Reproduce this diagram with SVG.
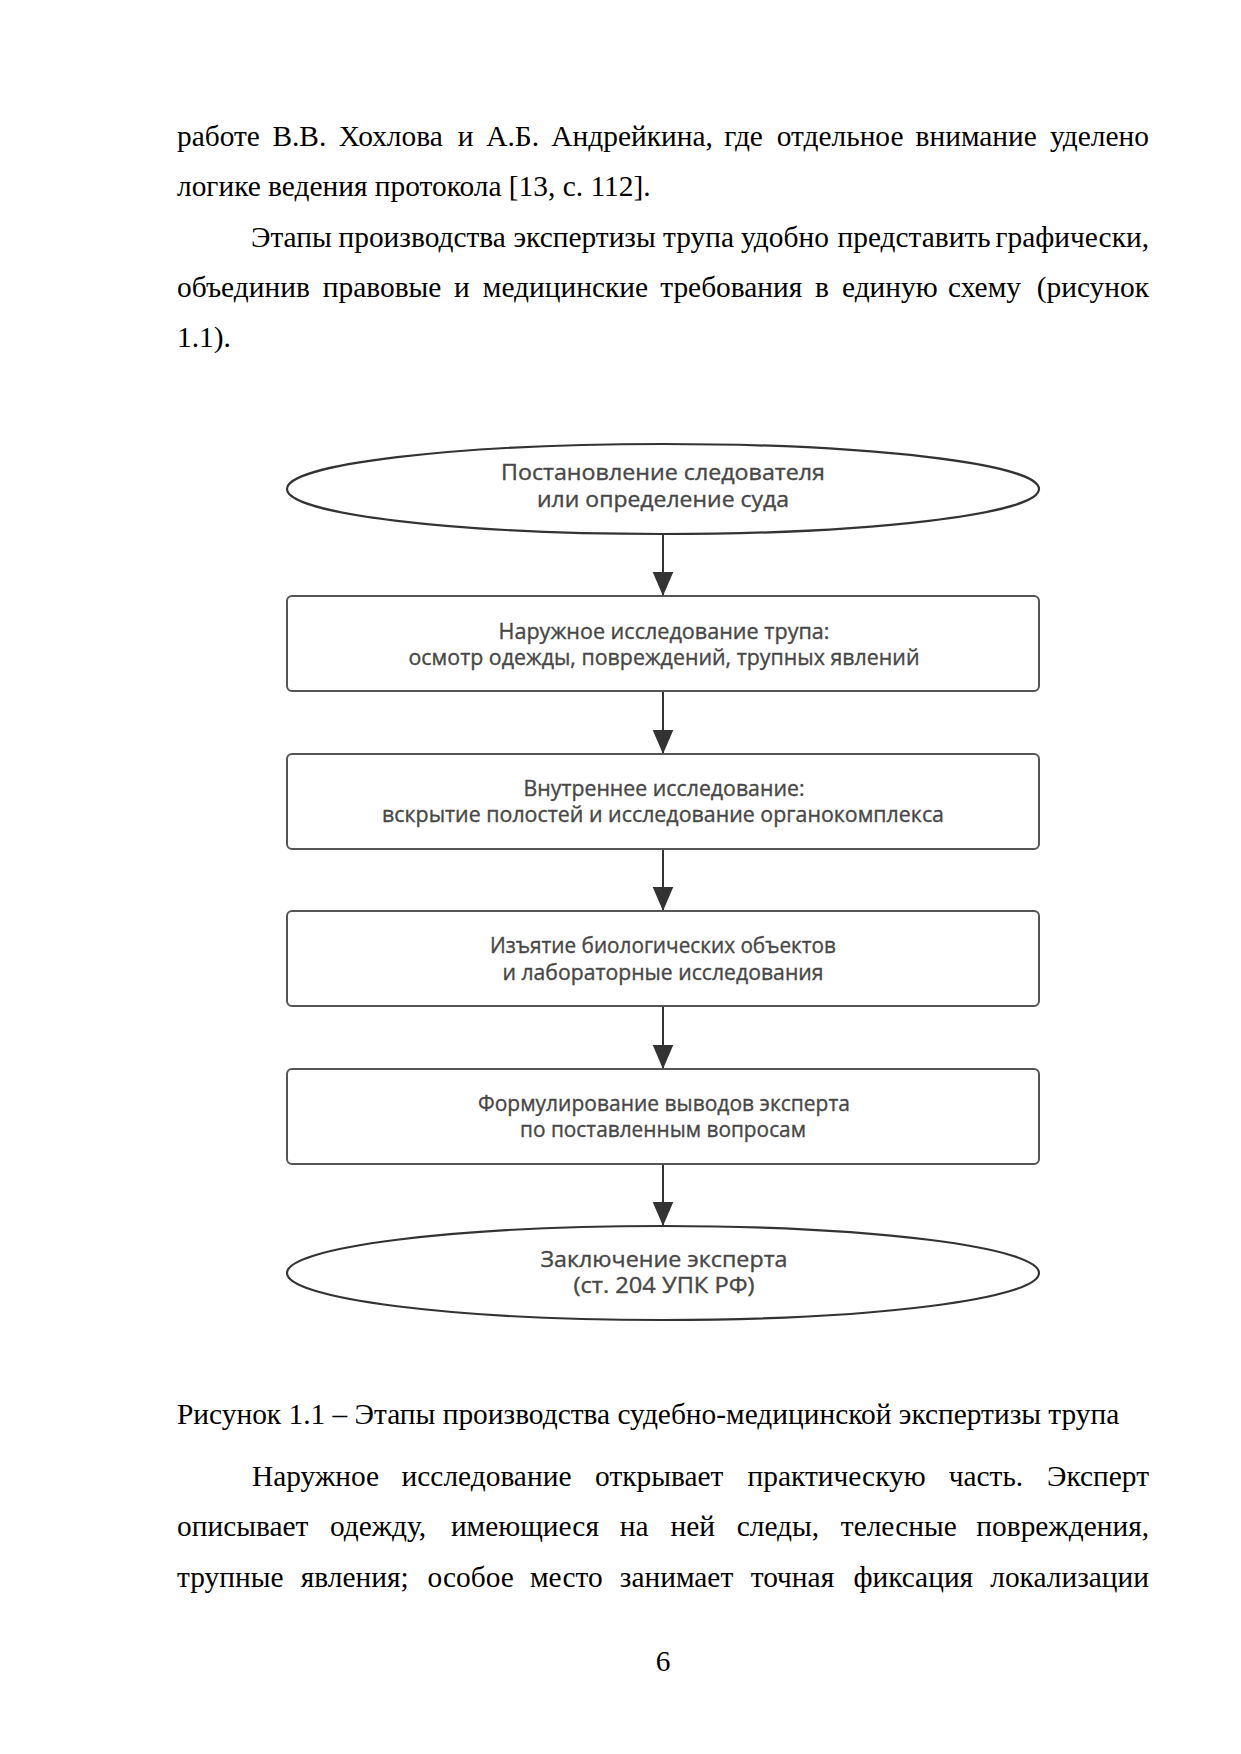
<svg xmlns="http://www.w3.org/2000/svg" width="1241" height="1754" viewBox="0 0 1241 1754">
<style>
.body{font-family:"Liberation Serif","Times New Roman",serif;font-size:29.4px;fill:#000}
.lbl{font-family:"Open Sans","Noto Sans",sans-serif;font-size:21px;fill:#474747;stroke:#474747;stroke-width:0.35;text-anchor:middle}
.term{fill:#fff;stroke:#333;stroke-width:2.2}
.proc{fill:#fff;stroke:#555;stroke-width:2}
.conn{stroke:#333;stroke-width:2;fill:none;marker-end:url(#ah)}
</style>
<defs>
<marker id="ah" markerUnits="userSpaceOnUse" markerWidth="24" markerHeight="28" refX="28" refY="12" orient="auto" viewBox="0 0 28 24">
<path d="M0,0 L28,12 L0,24 z" fill="#333"/>
</marker>
</defs>
<rect width="1241" height="1754" fill="#fff"/>

<g id="text-top">
<text class="body" y="146"><tspan x="177">работе</tspan><tspan x="272.4">В.В.</tspan><tspan x="338.8">Хохлова</tspan><tspan x="457.8">и</tspan><tspan x="486.3">А.Б.</tspan><tspan x="551.3">Андрейкина,</tspan><tspan x="724.3">где</tspan><tspan x="776.8">отдельное</tspan><tspan x="915.6">внимание</tspan></text>
<text class="body" y="146" x="1149" text-anchor="end">уделено</text>
<text class="body" x="177" y="196.3">логике ведения протокола [13, с. 112].</text>
<text class="body" y="246.6"><tspan x="251">Этапы</tspan><tspan x="338.5">производства</tspan><tspan x="513.5">экспертизы</tspan><tspan x="663">трупа</tspan><tspan x="741">удобно</tspan><tspan x="837.5">представить</tspan></text>
<text class="body" y="246.6" x="1149" text-anchor="end">графически,</text>
<text class="body" y="297"><tspan x="177">объединив</tspan><tspan x="322.8">правовые</tspan><tspan x="453.9">и</tspan><tspan x="482.8">медицинские</tspan><tspan x="660.2">требования</tspan><tspan x="815">в</tspan><tspan x="842">единую</tspan><tspan x="948">схему</tspan></text>
<text class="body" y="297" x="1149" text-anchor="end">(рисунок</text>
<text class="body" x="177" y="347.3">1.1).</text>
</g>

<g id="connectors">
<line class="conn" x1="663" y1="534" x2="663" y2="596"/>
<line class="conn" x1="663" y1="691" x2="663" y2="754"/>
<line class="conn" x1="663" y1="849" x2="663" y2="911"/>
<line class="conn" x1="663" y1="1006" x2="663" y2="1069"/>
<line class="conn" x1="663" y1="1164" x2="663" y2="1226"/>
</g>

<g id="n1">
<ellipse class="term" cx="663" cy="489" rx="376" ry="45"/>
<text class="lbl" x="663" y="480" textLength="324" lengthAdjust="spacingAndGlyphs">Постановление следователя</text>
<text class="lbl" x="663" y="507" textLength="252" lengthAdjust="spacingAndGlyphs">или определение суда</text>
</g>
<g id="n2">
<rect class="proc" x="287" y="596" width="752" height="95" rx="5"/>
<text class="lbl" x="664" y="639" textLength="331" lengthAdjust="spacingAndGlyphs">Наружное исследование трупа:</text>
<text class="lbl" x="664" y="665" textLength="511" lengthAdjust="spacingAndGlyphs">осмотр одежды, повреждений, трупных явлений</text>
</g>
<g id="n3">
<rect class="proc" x="287" y="754" width="752" height="95" rx="5"/>
<text class="lbl" x="664" y="796" textLength="281" lengthAdjust="spacingAndGlyphs">Внутреннее исследование:</text>
<text class="lbl" x="663" y="822" textLength="562" lengthAdjust="spacingAndGlyphs">вскрытие полостей и исследование органокомплекса</text>
</g>
<g id="n4">
<rect class="proc" x="287" y="911" width="752" height="95" rx="5"/>
<text class="lbl" x="663" y="953" textLength="346" lengthAdjust="spacingAndGlyphs">Изъятие биологических объектов</text>
<text class="lbl" x="663" y="980" textLength="321" lengthAdjust="spacingAndGlyphs">и лабораторные исследования</text>
</g>
<g id="n5">
<rect class="proc" x="287" y="1069" width="752" height="95" rx="5"/>
<text class="lbl" x="664" y="1111" textLength="372" lengthAdjust="spacingAndGlyphs">Формулирование выводов эксперта</text>
<text class="lbl" x="663" y="1137" textLength="286" lengthAdjust="spacingAndGlyphs">по поставленным вопросам</text>
</g>
<g id="n6">
<ellipse class="term" cx="663" cy="1273" rx="376" ry="47"/>
<text class="lbl" x="664" y="1267" textLength="247" lengthAdjust="spacingAndGlyphs">Заключение эксперта</text>
<text class="lbl" x="664" y="1293" textLength="181" lengthAdjust="spacingAndGlyphs">(ст. 204 УПК РФ)</text>
</g>

<g id="text-bottom">
<text class="body" x="177" y="1424">Рисунок 1.1 – Этапы производства судебно-медицинской экспертизы трупа</text>
<text class="body" y="1486"><tspan x="252">Наружное</tspan><tspan x="401.6">исследование</tspan><tspan x="595.1">открывает</tspan><tspan x="747.6">практическую</tspan><tspan x="948.7">часть.</tspan></text>
<text class="body" y="1486" x="1149" text-anchor="end">Эксперт</text>
<text class="body" y="1536.3"><tspan x="177">описывает</tspan><tspan x="329.9">одежду,</tspan><tspan x="450.9">имеющиеся</tspan><tspan x="619.8">на</tspan><tspan x="670.5">ней</tspan><tspan x="736.7">следы,</tspan><tspan x="840.8">телесные</tspan></text>
<text class="body" y="1536.3" x="1149" text-anchor="end">повреждения,</text>
<text class="body" y="1586.6"><tspan x="177">трупные</tspan><tspan x="300.8">явления;</tspan><tspan x="427.6">особое</tspan><tspan x="530">место</tspan><tspan x="619.8">занимает</tspan><tspan x="750.7">точная</tspan><tspan x="853.4">фиксация</tspan></text>
<text class="body" y="1586.6" x="1149" text-anchor="end">локализации</text>
<text class="body" x="663" y="1671" text-anchor="middle">6</text>
</g>
</svg>
